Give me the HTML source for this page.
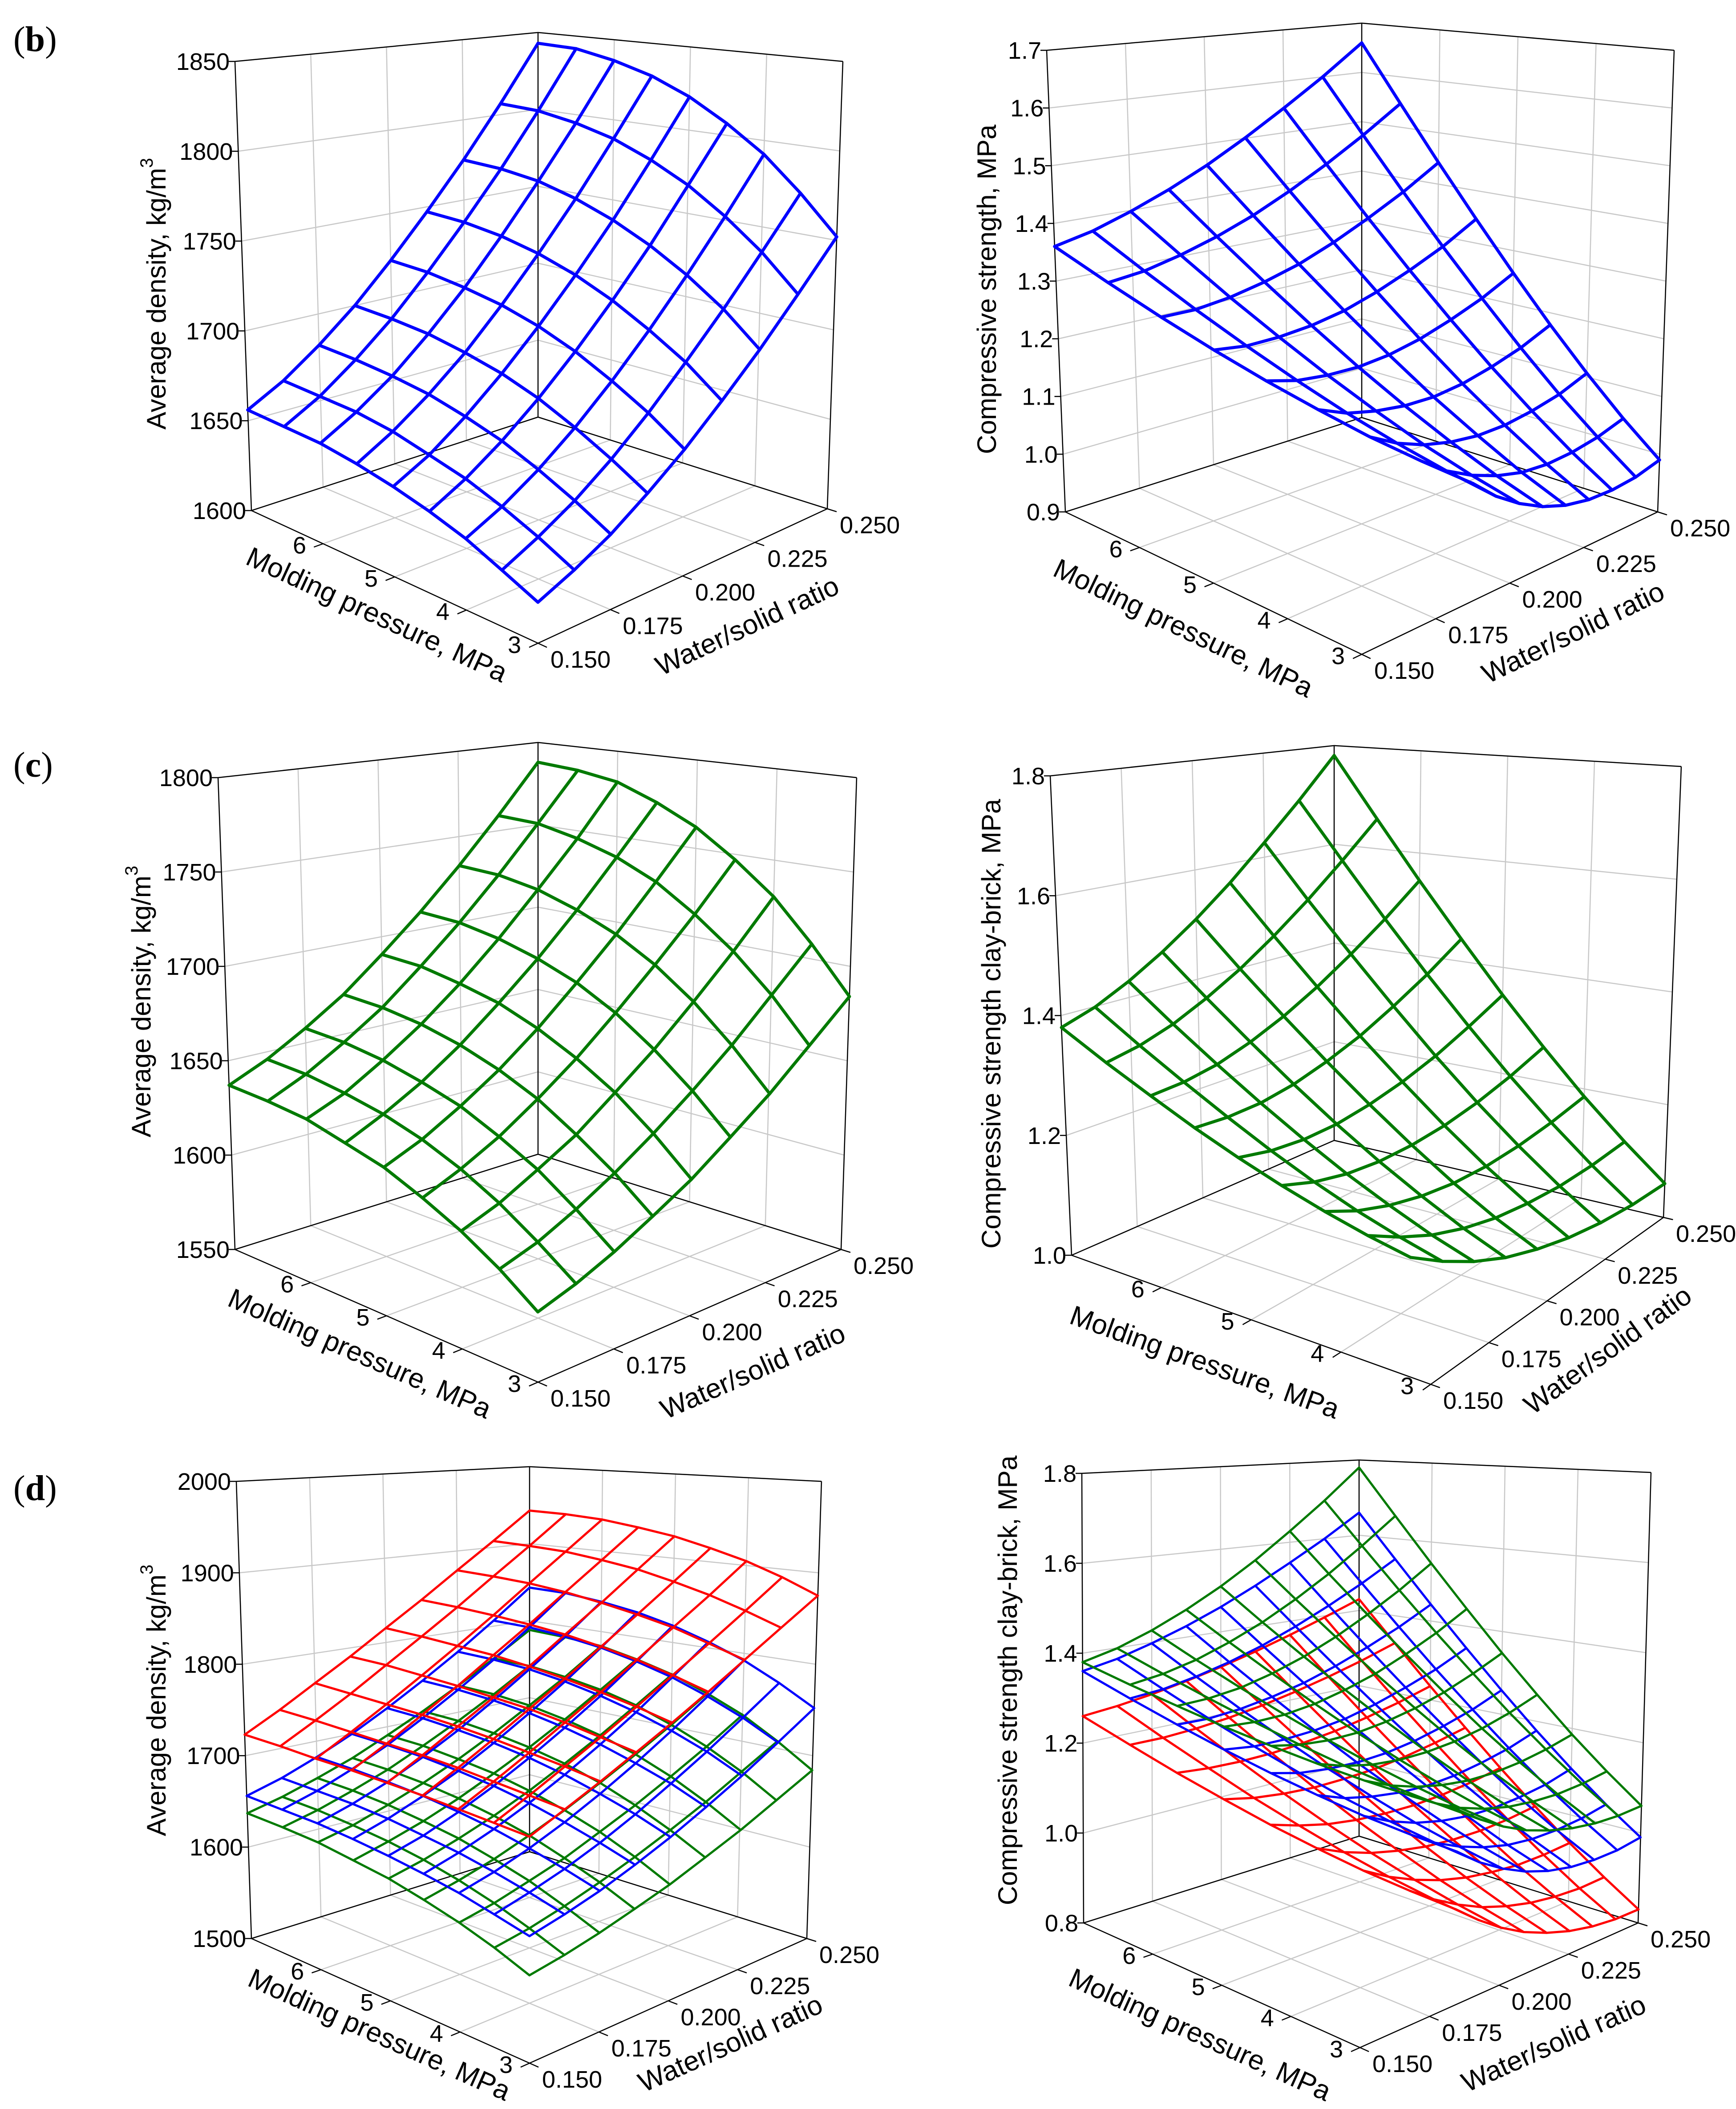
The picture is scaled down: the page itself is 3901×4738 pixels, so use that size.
<!DOCTYPE html>
<html><head><meta charset="utf-8"><title>Response surfaces</title>
<style>html,body{margin:0;padding:0;background:#fff}svg{display:block}text{font-family:"Liberation Sans",Arial,sans-serif;fill:#000}</style>
</head><body>
<svg id="fig" xmlns="http://www.w3.org/2000/svg" width="3901" height="4738" viewBox="0 0 3901 4738">
<rect x="0" y="0" width="3901" height="4738" fill="#fff"/>
<text x="30" y="115" style="font-family:'Liberation Serif',serif;font-size:80px">(<tspan font-weight="bold">b</tspan>)</text>
<text x="30" y="1745" style="font-family:'Liberation Serif',serif;font-size:80px">(<tspan font-weight="bold">c</tspan>)</text>
<text x="30" y="3370" style="font-family:'Liberation Serif',serif;font-size:80px">(<tspan font-weight="bold">d</tspan>)</text>
</svg>
<script>
// ---- data ----
const pressureTicks = [3, 4, 5, 6];
const wsTicks = [0.150, 0.175, 0.200, 0.225, 0.250];
const pressureRange = [3, 7];
const wsRange = [0.15, 0.25];
const densityTicksB = [1600, 1650, 1700, 1750, 1800, 1850];
const densityTicksC = [1550, 1600, 1650, 1700, 1750, 1800];
const densityTicksD = [1500, 1600, 1700, 1800, 1900, 2000];
const strengthTicksB = [0.9, 1.0, 1.1, 1.2, 1.3, 1.4, 1.5, 1.6, 1.7];
const strengthTicksC = [1.0, 1.2, 1.4, 1.6, 1.8];
const strengthTicksD = [0.8, 1.0, 1.2, 1.4, 1.6, 1.8];
// rows: molding pressure 3 -> 7 MPa ; columns: water/solid 0.150 -> 0.250
const densityBlue = [
[1620,1628,1638,1651,1666,1684,1704,1727,1752],
[1628,1637,1648,1662,1679,1699,1721,1746,1773],
[1636,1645,1657,1672,1690,1711,1735,1762,1792],
[1642,1652,1665,1681,1700,1722,1747,1776,1807],
[1647,1657,1671,1688,1708,1731,1757,1787,1820],
[1651,1662,1676,1693,1714,1738,1765,1796,1830],
[1654,1665,1679,1697,1718,1743,1771,1802,1837],
[1655,1666,1681,1699,1721,1746,1774,1806,1842],
[1656,1667,1682,1700,1722,1747,1775,1807,1843]];
const densityGreen = [
[1583,1589,1597,1607,1618,1632,1647,1665,1684],
[1596,1602,1611,1622,1635,1650,1667,1687,1708],
[1607,1614,1624,1635,1650,1666,1685,1706,1730],
[1616,1624,1634,1647,1662,1680,1700,1722,1747],
[1624,1632,1643,1656,1672,1691,1712,1736,1762],
[1629,1638,1649,1663,1680,1699,1721,1746,1773],
[1634,1642,1654,1668,1685,1705,1728,1753,1782],
[1636,1645,1657,1671,1689,1709,1732,1758,1786],
[1637,1646,1658,1672,1690,1710,1733,1759,1788]];
const densityRed = [
[1714,1729,1745,1763,1782,1803,1826,1850,1875],
[1716,1732,1750,1769,1790,1813,1837,1863,1891],
[1718,1735,1754,1775,1797,1822,1848,1875,1905],
[1720,1738,1758,1780,1803,1829,1856,1885,1916],
[1721,1740,1761,1783,1808,1835,1863,1894,1926],
[1722,1741,1763,1786,1812,1839,1869,1900,1933],
[1722,1742,1764,1788,1814,1842,1873,1905,1939],
[1723,1743,1765,1790,1816,1844,1875,1907,1942],
[1723,1743,1766,1790,1817,1845,1876,1908,1943]];
const strengthBlue = [
[0.970,0.948,0.934,0.926,0.925,0.931,0.944,0.963,0.990],
[1.002,0.983,0.972,0.967,0.968,0.977,0.993,1.015,1.044],
[1.038,1.023,1.015,1.014,1.019,1.031,1.050,1.074,1.107],
[1.080,1.068,1.065,1.067,1.075,1.091,1.114,1.142,1.178],
[1.126,1.119,1.120,1.126,1.139,1.159,1.186,1.218,1.258],
[1.177,1.175,1.181,1.192,1.209,1.234,1.265,1.301,1.346],
[1.233,1.236,1.247,1.264,1.286,1.316,1.352,1.393,1.442],
[1.294,1.303,1.320,1.342,1.370,1.405,1.446,1.493,1.547],
[1.360,1.375,1.398,1.426,1.460,1.501,1.548,1.600,1.660]];
const strengthGreen = [
[1.050,1.031,1.017,1.009,1.008,1.012,1.022,1.038,1.060],
[1.077,1.061,1.050,1.046,1.048,1.057,1.071,1.092,1.119],
[1.108,1.095,1.089,1.089,1.095,1.108,1.128,1.154,1.186],
[1.143,1.134,1.132,1.137,1.149,1.167,1.192,1.224,1.263],
[1.182,1.178,1.181,1.191,1.209,1.233,1.264,1.303,1.348],
[1.225,1.227,1.235,1.251,1.275,1.305,1.344,1.389,1.443],
[1.273,1.280,1.294,1.317,1.347,1.385,1.431,1.484,1.546],
[1.324,1.337,1.358,1.388,1.425,1.471,1.525,1.588,1.659],
[1.380,1.399,1.428,1.465,1.510,1.564,1.628,1.699,1.780]];
const strengthRed = [
[0.860,0.836,0.817,0.804,0.798,0.797,0.802,0.813,0.830],
[0.893,0.871,0.855,0.844,0.840,0.841,0.848,0.860,0.879],
[0.930,0.911,0.898,0.890,0.888,0.892,0.900,0.915,0.935],
[0.973,0.957,0.947,0.943,0.943,0.949,0.960,0.977,0.999],
[1.020,1.009,1.002,1.001,1.005,1.013,1.027,1.046,1.070],
[1.073,1.065,1.063,1.065,1.073,1.084,1.101,1.123,1.149],
[1.130,1.128,1.130,1.136,1.147,1.162,1.182,1.206,1.235],
[1.193,1.195,1.202,1.213,1.228,1.247,1.270,1.297,1.329],
[1.260,1.268,1.280,1.296,1.315,1.338,1.365,1.396,1.430]];

// ---- layout (box corners in pixels) ----
const panels = [
 {id:'b-density', Lb:[565,1147],Lt:[528,138],Bb:[1209,937],Bt:[1209,73],Rb:[1859,1143],Rt:[1894,138],F:[1209,1445],
  zt:densityTicksB, dec:0, lw:7, zTitle:'Average density, kg/m', sup:true, zT:[356,660], mp:[838,1400], ws:[1688,1425],
  surfs:[[densityBlue,'#0000ff','blue']]},
 {id:'b-strength', Lb:[2394,1150],Lt:[2352,113],Bb:[3060,938],Bt:[3060,52],Rb:[3725,1150],Rt:[3762,113],F:[3060,1470],Fs:[3310,1190],
  zt:strengthTicksB, dec:1, lw:7, zTitle:'Compressive strength, MPa', sup:false, zT:[2222,650], mp:[2650,1430], ws:[3544,1440],
  surfs:[[strengthBlue,'#0000ff','blue']]},
 {id:'c-density', Lb:[528,2807],Lt:[490,1747],Bb:[1209,2593],Bt:[1209,1668],Rb:[1890,2807],Rt:[1925,1747],F:[1209,3105],
  zt:densityTicksC, dec:0, lw:7, zTitle:'Average density, kg/m', sup:true, zT:[322,2250], mp:[800,3060], ws:[1700,3100],
  surfs:[[densityGreen,'#007a00','green']]},
 {id:'c-strength', Lb:[2408,2820],Lt:[2360,1743],Bb:[2998,2562],Bt:[2998,1675],Rb:[3738,2735],Rt:[3778,1722],F:[3215,3110],Fs:[3170,2900],
  zt:strengthTicksC, dec:1, lw:7, zTitle:'Compressive strength clay-brick, MPa', sup:false, zT:[2232,2300], mp:[2700,3080], ws:[3625,3050],
  surfs:[[strengthGreen,'#007a00','green']]},
 {id:'d-density', Lb:[565,4355],Lt:[531,3328],Bb:[1190,4160],Bt:[1190,3295],Rb:[1813,4355],Rt:[1846,3328],F:[1190,4635],
  zt:densityTicksD, dec:0, lw:5, zTitle:'Average density, kg/m', sup:true, zT:[356,3820], mp:[844,4590], ws:[1650,4610],
  surfs:[[densityGreen,'#007a00','green'],[densityBlue,'#0000ff','blue'],[densityRed,'#ff0000','red']]},
 {id:'d-strength', Lb:[2435,4320],Lt:[2431,3310],Bb:[3054,4125],Bt:[3054,3280],Rb:[3681,4320],Rt:[3710,3308],F:[3056,4600],Fs:[3270,4360],
  zt:strengthTicksD, dec:1, lw:5, zTitle:'Compressive strength clay-brick, MPa', sup:false, zT:[2269,3775], mp:[2688,4590], ws:[3500,4610],
  surfs:[[strengthRed,'#ff0000','red'],[strengthBlue,'#0000ff','blue'],[strengthGreen,'#007a00','green']]}
];

const NS='http://www.w3.org/2000/svg';
const svg=document.getElementById('fig');
function mk(tag,attrs,parent){const e=document.createElementNS(NS,tag);for(const k in attrs)e.setAttribute(k,attrs[k]);(parent||svg).appendChild(e);return e;}
function uOf(p){return (p-pressureRange[0])/(pressureRange[1]-pressureRange[0]);}
function vOf(w){return (w-wsRange[0])/(wsRange[1]-wsRange[0]);}
function proj(P,u,v,h,surf){
  const F=(surf&&P.Fs)?P.Fs:P.F, L=P.Lb, B=P.Bb, R=P.Rb;
  const w00=(1-u)*(1-v), w01=(1-u)*v, w10=u*(1-v), w11=u*v;
  const uL=[P.Lt[0]-L[0],P.Lt[1]-L[1]], uB=[P.Bt[0]-B[0],P.Bt[1]-B[1]], uR=[P.Rt[0]-R[0],P.Rt[1]-R[1]];
  const uF=[uL[0]+uR[0]-uB[0],uL[1]+uR[1]-uB[1]];
  const x=w00*F[0]+w01*R[0]+w10*L[0]+w11*B[0]+h*(w00*uF[0]+w01*uR[0]+w10*uL[0]+w11*uB[0]);
  const y=w00*F[1]+w01*R[1]+w10*L[1]+w11*B[1]+h*(w00*uF[1]+w01*uR[1]+w10*uL[1]+w11*uB[1]);
  return [x,y];
}
function line(g,a,b,st,sw){return mk('line',{x1:a[0].toFixed(1),y1:a[1].toFixed(1),x2:b[0].toFixed(1),y2:b[1].toFixed(1),stroke:st,'stroke-width':sw},g);}

panels.forEach(P=>{
  const g=mk('g',{});
  
  
  const z0=P.zt[0], z1=P.zt[P.zt.length-1];
  const hz=z=>(z-z0)/(z1-z0);
  const grid=mk('g',{},g);
  
  
  const gc='#c8c8c8', gw=2.5;
  // z gridlines on both walls
  P.zt.forEach(z=>{
    const h=hz(z);
    const a=proj(P,1,0,h),b=proj(P,1,1,h),c=proj(P,0,1,h);
    line(grid,a,b,gc,gw); line(grid,b,c,gc,gw);
  });
  // ws gridlines: left wall verticals & floor
  wsTicks.forEach(w=>{
    const v=vOf(w); if(v<=0||v>=1)return;
    line(grid,proj(P,1,v,0),proj(P,1,v,1),gc,gw);
    line(grid,proj(P,0,v,0),proj(P,1,v,0),gc,gw);
  });
  pressureTicks.forEach(p=>{
    const u=uOf(p); if(u<=0||u>=1)return;
    line(grid,proj(P,u,1,0),proj(P,u,1,1),gc,gw);
    line(grid,proj(P,u,0,0),proj(P,u,1,0),gc,gw);
  });
  // box frame
  const fr=mk('g',{},g);
  
  
  const k='#000', kw=2.5;
  const L0=proj(P,1,0,0),B0=proj(P,1,1,0),R0=proj(P,0,1,0),F0=proj(P,0,0,0);
  const L1=proj(P,1,0,1),B1=proj(P,1,1,1),R1=proj(P,0,1,1);
  [[L0,L1],[B0,B1],[R0,R1],[L1,B1],[B1,R1],[L0,B0],[B0,R0],[L0,F0],[F0,R0]].forEach(s=>line(fr,s[0],s[1],k,kw));
  // z ticks and labels
  P.zt.forEach(z=>{
    const p=proj(P,1,0,hz(z));
    line(fr,[p[0]-14,p[1]],p,k,kw);
    const t=mk('text',{x:(p[0]-12).toFixed(1),y:(p[1]+19).toFixed(1),'text-anchor':'end','font-size':54},g);
    
    
    t.textContent=z.toFixed(P.dec);
  });
  // pressure ticks
  pressureTicks.forEach(pv=>{
    const u=uOf(pv), a=proj(P,u,0,0), b=proj(P,u,1,0);
    const dx=a[0]-b[0], dy=a[1]-b[1], d=Math.hypot(dx,dy);
    line(fr,a,[a[0]+dx/d*22,a[1]+dy/d*22],k,kw);
    const t=mk('text',{x:(a[0]-38).toFixed(1),y:(a[1]+22).toFixed(1),'text-anchor':'end','font-size':54},g);
    
    
    t.textContent=String(pv);
  });
  wsTicks.forEach(wv=>{
    const v=vOf(wv), a=proj(P,0,v,0), b=proj(P,1,v,0);
    const dx=a[0]-b[0], dy=a[1]-b[1], d=Math.hypot(dx,dy);
    line(fr,a,[a[0]+dx/d*22,a[1]+dy/d*22],k,kw);
    const t=mk('text',{x:(a[0]+28).toFixed(1),y:(a[1]+55).toFixed(1),'text-anchor':'start','font-size':54},g);
    
    
    t.textContent=wv.toFixed(3);
  });
  // titles
  const zt=mk('text',{x:P.zT[0],y:P.zT[1],'text-anchor':'middle','font-size':60,transform:`rotate(-90 ${P.zT[0]} ${P.zT[1]})`,'dominant-baseline':'middle'},g);
  
  
  zt.textContent=P.zTitle;
  if(P.sup){const s=mk('tspan',{'font-size':40,dy:-24},zt);s.textContent='3';}
  const angP=Math.atan2(F0[1]-L0[1],F0[0]-L0[0])*180/Math.PI;
  const mt=mk('text',{x:P.mp[0],y:P.mp[1],'text-anchor':'middle','font-size':62,transform:`rotate(${angP.toFixed(2)} ${P.mp[0]} ${P.mp[1]})`},g);
  
  
  mt.textContent='Molding pressure, MPa';
  const angW=Math.atan2(R0[1]-F0[1],R0[0]-F0[0])*180/Math.PI;
  const wt=mk('text',{x:P.ws[0],y:P.ws[1],'text-anchor':'middle','font-size':62,transform:`rotate(${angW.toFixed(2)} ${P.ws[0]} ${P.ws[1]})`},g);
  
  
  wt.textContent='Water/solid ratio';
  // surfaces
  P.surfs.forEach(sf=>{
    const Z=sf[0], col=sf[1];
    const sg=mk('g',{fill:'none',stroke:col,'stroke-width':P.lw,'stroke-linejoin':'round','stroke-linecap':'round'},g);
    
    
    const n=Z.length, m=Z[0].length;
    const pt=(i,j)=>proj(P,i/(n-1),j/(m-1),hz(Z[i][j]),true);
    for(let i=0;i<n;i++){
      let d='';for(let j=0;j<m;j++){const q=pt(i,j);d+=(j?'L':'M')+q[0].toFixed(1)+' '+q[1].toFixed(1);}
      const pa=mk('path',{d:d},sg);
      
      
    }
    for(let j=0;j<m;j++){
      let d='';for(let i=0;i<n;i++){const q=pt(i,j);d+=(i?'L':'M')+q[0].toFixed(1)+' '+q[1].toFixed(1);}
      const pa=mk('path',{d:d},sg);
      
      
    }
  });
});
</script>
</body></html>
